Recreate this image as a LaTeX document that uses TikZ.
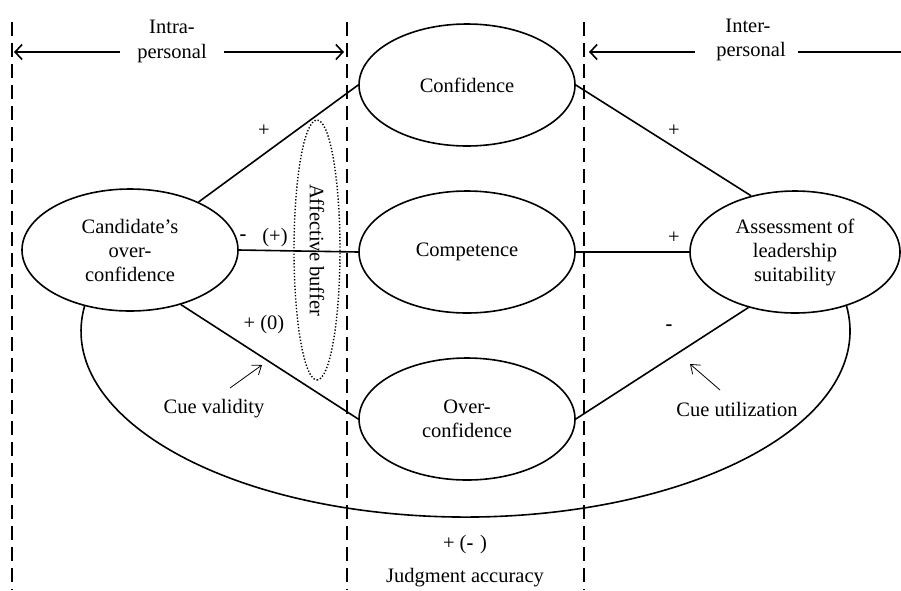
\documentclass[tikz,border=0pt]{standalone}
\usepackage{fontspec}
\setmainfont{Liberation Serif}
\usetikzlibrary{shapes.geometric,arrows.meta}
\begin{document}
\begin{tikzpicture}[x=1pt,y=1pt,
  every node/.style={font=\fontsize{20.5}{24}\selectfont},
  oval/.style={ellipse,draw,line width=1.6pt,minimum width=216pt,minimum height=122pt,inner sep=0pt,align=center},
  buffer/.style={ellipse,draw,line width=1.4pt,dash pattern=on 1.3pt off 1.9pt,minimum width=260pt,minimum height=46pt,inner sep=0pt},
  link/.style={line width=1.6pt},
  divider/.style={line width=1.8pt,dash pattern=on 14pt off 7pt},
  span/.style={line width=1.6pt,-{Straight Barb[length=7pt,width=15pt,line width=1.6pt]}},
  cue/.style={line width=0.8pt,-{Straight Barb[length=8pt,width=12pt,line width=0.8pt]}},
  lbl/.style={inner sep=0pt}]
\useasboundingbox (0,0) rectangle (901,-590);

% dashed dividers
\coordinate (d1t) at (12,-22);  \coordinate (d1b) at (12,-590);
\coordinate (d2t) at (347,-22); \coordinate (d2b) at (347,-590);
\coordinate (d3t) at (584,-22); \coordinate (d3b) at (584,-590);
\draw[divider] (d1t) -- (d1b);
\draw[divider] (d2t) -- (d2b);
\draw[divider] (d3t) -- (d3b);

% headers
\node[lbl,anchor=base] (intra1) at (172,-33) {Intra-};
\node[lbl,anchor=base] (intra2) at (172,-58) {personal};
\node[lbl,anchor=base] (inter1) at (748,-32) {Inter-};
\node[lbl,anchor=base] (inter2) at (751,-56) {personal};
\coordinate (ia1) at (120,-52); \coordinate (il) at (14,-52);
\coordinate (ia2) at (224,-52); \coordinate (ir) at (344,-52);
\coordinate (ea1) at (695,-52); \coordinate (el) at (589,-52);
\coordinate (ea2) at (798,-52); \coordinate (er) at (901,-52);
\draw[span] (ia1) -- (il);
\draw[span] (ia2) -- (ir);
\draw[span] (ea1) -- (el);
\draw[link] (ea2) -- (er);

% main nodes
\node[oval] (cand) at (130,-250) {Candidate's\\over-\\confidence};
\node[oval] (conf) at (467,-85) {Confidence};
\node[oval] (comp) at (467,-252) {Competence};
\node[oval] (over) at (467,-419) {Over-\\confidence};
\node[oval,minimum width=210pt] (assess) at (795,-252) {Assessment of\\leadership\\suitability};

% affective buffer
\node[buffer,rotate=-90] (buf) at (317,-250) {Affective buffer};

% connectors
\draw[link] (cand.35) -- (conf.west);
\draw[link] (cand.east) -- (comp.west);
\draw[link] (cand.-47) -- (over.west);
\draw[link] (conf.east) -- (assess.128);
\draw[link] (comp.east) -- (assess.west);
\draw[link] (over.east) -- (assess.-130);
\draw[link] (cand.-129) arc[start angle=172.3, end angle=367.7, x radius=384.5pt, y radius=186pt];

% sign labels
\node[lbl] (s1) at (264,-131) {+};
\node[lbl] (s2) at (243,-238) {\textbf{-}};
\node[lbl] (s3) at (275,-238) {(+)};
\node[lbl] (s4) at (264,-325) {+ (0)};
\node[lbl] (s5) at (674,-131) {+};
\node[lbl] (s6) at (674,-238) {+};
\node[lbl] (s7) at (669,-328) {\textbf{-}};
\node[lbl] (s8) at (465,-545) {+ (\textbf{-}\,\,)};
\node[lbl] (judg) at (465,-578) {Judgment accuracy};

% cue arrows
\node[lbl] (cv) at (214,-409) {Cue validity};
\node[lbl] (cu) at (737,-409) {Cue utilization};
\coordinate (cva) at (230,-388); \coordinate (cvb) at (262,-365);
\coordinate (cua) at (720,-390); \coordinate (cub) at (690,-364);
\draw[cue] (cva) -- (cvb);
\draw[cue] (cua) -- (cub);
\end{tikzpicture}
\end{document}
